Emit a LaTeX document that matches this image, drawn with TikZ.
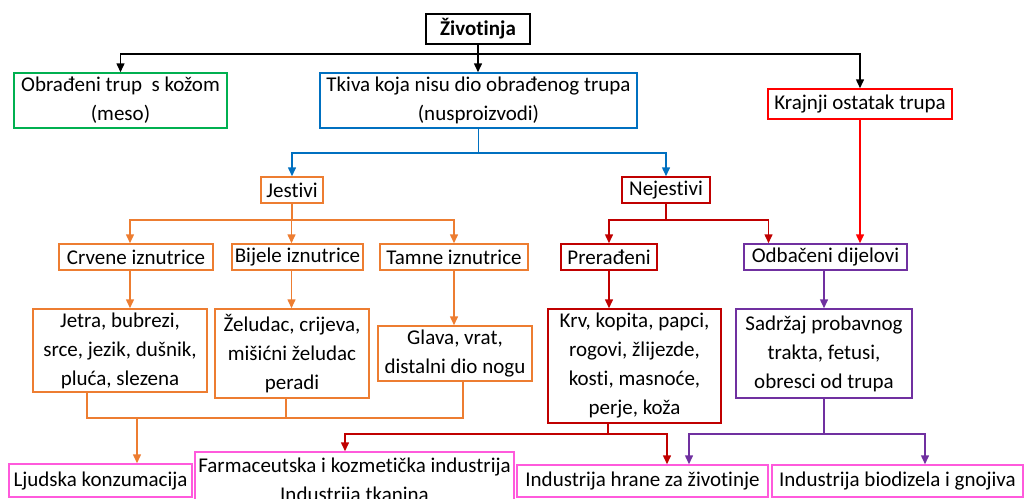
\documentclass[tikz,border=0pt]{standalone}
\usepackage{fontspec}
\setmainfont{Carlito}[Ligatures=NoCommon]
\usetikzlibrary{arrows.meta}
\definecolor{zelena}{RGB}{0,176,80}
\definecolor{plava}{RGB}{0,112,192}
\definecolor{crvena}{RGB}{255,0,0}
\definecolor{tamnocrvena}{RGB}{192,0,0}
\definecolor{narandzasta}{RGB}{237,125,49}
\definecolor{ljubicasta}{RGB}{112,48,160}
\definecolor{roza}{RGB}{255,90,220}
\tikzset{
  kutija/.style={draw=#1, line width=1.5pt, fill=white, inner sep=0pt,
    align=center, text=black, font=\fontsize{21}{29}\selectfont},
  veza/.style={draw=#1, line width=1.5pt},
  strelica/.style={veza=#1, -{Triangle[width=8pt,length=9pt]}}
}
\begin{document}
\begin{tikzpicture}[x=1pt,y=-1pt]
    \useasboundingbox (0,0) rectangle (1027,498);
    \clip (0,0) rectangle (1027,498);
    % Korijen
    \node[kutija=black, minimum width=104, minimum height=30] (zivotinja) at (478,29) {\textbf{Životinja}};
    % Prvi nivo
    \node[kutija=zelena, minimum width=213, minimum height=55] (meso) at (120.5,100.5) {Obrađeni trup\ \ s kožom\\(meso)};
    \node[kutija=plava, minimum width=317, minimum height=55] (tkiva) at (478.5,100.5) {Tkiva koja nisu dio obrađenog trupa\\(nusproizvodi)};
    \node[kutija=crvena, minimum width=184, minimum height=30] (krajnji) at (860,104) {Krajnji ostatak trupa};
    % Drugi nivo
    \node[kutija=narandzasta, minimum width=62, minimum height=26] (jestivi) at (292,190) {Jestivi};
    \node[kutija=tamnocrvena, minimum width=88, minimum height=26] (nejestivi) at (666,190) {Nejestivi};
    % Treci nivo
    \node[kutija=narandzasta, minimum width=154, minimum height=26] (crvene) at (136,257) {Crvene iznutrice};
    \node[kutija=narandzasta, minimum width=131, minimum height=26] (bijele) at (297.5,257) {Bijele iznutrice};
    \node[kutija=narandzasta, minimum width=148, minimum height=26] (tamne) at (454,257) {Tamne iznutrice};
    \node[kutija=tamnocrvena, minimum width=96, minimum height=26] (preradjeni) at (609,257) {Prerađeni};
    \node[kutija=ljubicasta, minimum width=163, minimum height=26] (odbaceni) at (825.5,257) {Odbačeni dijelovi};
    % Cetvrti nivo
    \node[kutija=narandzasta, minimum width=174, minimum height=83] (jetra) at (120,350.5) {Jetra, bubrezi,\\srce, jezik, dušnik,\\pluća, slezena};
    \node[kutija=narandzasta, minimum width=154, minimum height=89] (zeludac) at (292,353.5) {Želudac, crijeva,\\mišićni želudac\\peradi};
    \node[kutija=narandzasta, minimum width=154, minimum height=55] (glava) at (455,353.5) {Glava, vrat,\\distalni dio nogu};
    \node[kutija=tamnocrvena, minimum width=173, minimum height=114] (krv) at (634.5,366) {Krv, kopita, papci,\\rogovi, žlijezde,\\kosti, masnoće,\\perje, koža};
    \node[kutija=ljubicasta, minimum width=176, minimum height=89] (sadrzaj) at (824,353.5) {Sadržaj probavnog\\trakta, fetusi,\\obresci od trupa};
    % Upotreba
    \node[kutija=roza, minimum width=183, minimum height=33] (ljudska) at (100.5,480.5) {Ljudska konzumacija};
    \node[kutija=roza, minimum width=319, minimum height=59] (farma) at (354.5,481.5) {Farmaceutska i kozmetička industrija\\Industrija tkanina};
    \node[kutija=roza, minimum width=251, minimum height=32] (hrane) at (642.5,481) {Industrija hrane za životinje};
    \node[kutija=roza, minimum width=251, minimum height=32] (biodizel) at (897.5,481) {Industrija biodizela i gnojiva};
    % Veze od korijena
    \coordinate (crna) at (478,54);
    \draw[veza=black] (zivotinja.south) -- (crna);
    \draw[strelica=black] (crna) -| (meso.north);
    \draw[strelica=black] (crna) -- (crna |- tkiva.north);
    \draw[strelica=black] (crna) -| (krajnji.north);
    % Nusproizvodi
    \coordinate (plavo) at (478.5,153);
    \draw[veza=plava] (tkiva.south) -- (plavo);
    \draw[strelica=plava] (plavo) -| (jestivi.north);
    \draw[strelica=plava] (plavo) -| (nejestivi.north);
    % Jestivi
    \coordinate (nar) at (292,220);
    \draw[veza=narandzasta] (jestivi.south) -- (nar);
    \draw[strelica=narandzasta] (nar) -| ([xshift=-6pt]crvene.north);
    \draw[strelica=narandzasta] (nar) -| ([xshift=-6pt]bijele.north);
    \draw[strelica=narandzasta] (nar) -| (tamne.north);
    \draw[strelica=narandzasta] ([xshift=-6pt]crvene.south) -- ([xshift=-6pt]crvene.south |- jetra.north);
    \draw[strelica=narandzasta] ([xshift=-6pt]bijele.south) -- ([xshift=-6pt]bijele.south |- zeludac.north);
    \draw[strelica=narandzasta] (tamne.south) -- (tamne.south |- glava.north);
    \coordinate (spoj) at (137,418);
    \draw[veza=narandzasta] ([xshift=-33pt]jetra.south) |- ([xshift=8pt]glava.south |- spoj) -- ([xshift=8pt]glava.south);
    \draw[veza=narandzasta] ([xshift=-6pt]zeludac.south) -- ([xshift=-6pt]zeludac.south |- spoj);
    \draw[strelica=narandzasta] (spoj) -- (spoj |- ljudska.north);
    % Nejestivi
    \coordinate (tc) at (666,220);
    \draw[veza=tamnocrvena] (nejestivi.south) -- (tc);
    \draw[strelica=tamnocrvena] (tc) -| (preradjeni.north);
    \draw[strelica=tamnocrvena] (tc) -| ([xshift=-57pt]odbaceni.north);
    \draw[strelica=tamnocrvena] (preradjeni.south) -- (preradjeni.south |- krv.north);
    \coordinate (tcbus) at (608,434);
    \draw[veza=tamnocrvena] (krv.south -| tcbus) -- (tcbus);
    \draw[strelica=tamnocrvena] (tcbus) -| ([xshift=-9.5pt]farma.north);
    \draw[strelica=tamnocrvena] (tcbus) -| ([xshift=24.5pt]hrane.north);
    % Krajnji ostatak
    \draw[strelica=crvena] (krajnji.south) -- (krajnji.south |- odbaceni.north);
    % Odbaceni dijelovi
    \draw[strelica=ljubicasta] (odbaceni.south -| sadrzaj.north) -- (sadrzaj.north);
    \coordinate (lbus) at (824,434);
    \draw[veza=ljubicasta] (sadrzaj.south) -- (lbus);
    \draw[strelica=ljubicasta] (lbus) -| ([xshift=46.5pt]hrane.north);
    \draw[strelica=ljubicasta] (lbus) -| ([xshift=27.5pt]biodizel.north);
\end{tikzpicture}
\end{document}
